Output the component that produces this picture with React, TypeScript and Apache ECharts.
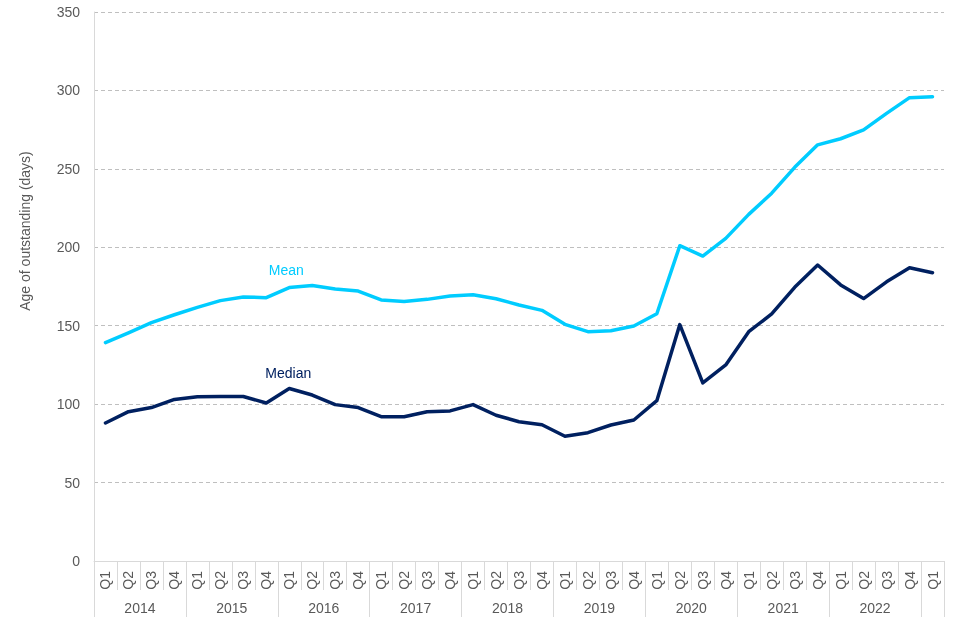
import React, { useEffect, useRef } from 'react';
import * as echarts from 'echarts';

const quarters = [
  'Q1', 'Q2', 'Q3', 'Q4', 'Q1', 'Q2', 'Q3', 'Q4', 'Q1', 'Q2', 'Q3', 'Q4',
  'Q1', 'Q2', 'Q3', 'Q4', 'Q1', 'Q2', 'Q3', 'Q4', 'Q1', 'Q2', 'Q3', 'Q4',
  'Q1', 'Q2', 'Q3', 'Q4', 'Q1', 'Q2', 'Q3', 'Q4', 'Q1', 'Q2', 'Q3', 'Q4',
  'Q1',
];
const years = ['2014', '2015', '2016', '2017', '2018', '2019', '2020', '2021', '2022'];

const meanValues = [
  139.2, 145.5, 152, 157, 161.7, 166, 168.3, 167.9, 174.3, 175.7, 173.4, 172.1,
  166.4, 165.5, 166.8, 169, 169.8, 167.2, 163.2, 159.8, 150.9, 146.2, 146.8, 149.8,
  157.6, 201, 194.4, 205.7, 221, 234.5, 251, 265.3, 269.2, 274.8, 285.4, 295.4,
  296,
];
const medianValues = [
  88, 95.2, 97.8, 103, 104.7, 104.9, 104.9, 100.7, 110, 105.8, 99.7, 97.8,
  92, 92, 95.2, 95.7, 99.7, 92.9, 88.8, 86.9, 79.5, 81.8, 86.7, 89.9,
  102.2, 150.7, 113.5, 125, 146.2, 157.5, 174.5, 188.7, 176, 167.3, 178, 187,
  183.8,
];
const seriesNames = ['Mean', 'Median'];
const labelIndex = 8;
const yMin = 0;
const yMax = 350;
const yInterval = 50;
const yAxisTitle = 'Age of outstanding (days)';

const FONT = '"Liberation Sans", Arial, sans-serif';
const TEXT = '#595959';
const AXIS = '#d9d9d9';
const MEAN_COLOR = '#00ccff';
const MEDIAN_COLOR = '#002060';

function withLabel(
  values: number[],
  color: string,
  name: string,
  distance: number,
  offset: number[]
) {
  return values.map((v, i) =>
    i === labelIndex
      ? {
          value: v,
          label: {
            show: true,
            position: 'top',
            distance,
            offset,
            formatter: name,
            color,
            fontSize: 14,
            fontFamily: FONT,
          },
        }
      : v
  );
}

export default function App() {
  const ref = useRef<HTMLDivElement>(null);
  useEffect(() => {
    const chart = echarts.init(ref.current!, null, { renderer: 'svg' });
    const n = quarters.length;
    chart.setOption({
      animation: false,
      grid: { left: 94, right: 16, top: 12, bottom: 79, containLabel: false },
      xAxis: [
        {
          type: 'category',
          data: quarters,
          boundaryGap: true,
          axisLine: { show: true, lineStyle: { color: AXIS, width: 1 } },
          axisTick: { show: true, interval: 0, length: 29, lineStyle: { color: AXIS } },
          axisLabel: {
            interval: 0,
            rotate: 90,
            margin: 10,
            color: TEXT,
            fontSize: 14,
            fontFamily: FONT,
          },
          splitLine: { show: false },
        },
        {
          type: 'value',
          min: 0,
          max: n,
          interval: 4,
          position: 'bottom',
          axisLine: { show: false },
          axisTick: { show: true, length: 56, lineStyle: { color: AXIS } },
          axisLabel: { show: false },
          splitLine: { show: false },
        },
        {
          type: 'value',
          min: 0,
          max: n,
          interval: 2,
          position: 'bottom',
          axisLine: { show: false },
          axisTick: { show: false },
          splitLine: { show: false },
          axisLabel: {
            margin: 40,
            color: TEXT,
            fontSize: 14,
            fontFamily: FONT,
            showMinLabel: true,
            showMaxLabel: true,
            formatter: (v: number) =>
              v % 4 === 2 && (v - 2) / 4 < years.length ? years[(v - 2) / 4] : '',
          },
        },
      ],
      yAxis: {
        type: 'value',
        min: yMin,
        max: yMax,
        interval: yInterval,
        axisLine: { show: true, lineStyle: { color: AXIS } },
        axisTick: { show: false },
        axisLabel: { margin: 14, color: TEXT, fontSize: 14, fontFamily: FONT },
        splitLine: { show: true, lineStyle: { color: '#bfbfbf', type: [4, 3], width: 1 } },
      },
      graphic: [
        {
          type: 'text',
          x: 24.5,
          y: 231,
          rotation: Math.PI / 2,
          style: {
            text: yAxisTitle,
            fill: TEXT,
            font: `14px ${FONT}`,
            align: 'center',
            verticalAlign: 'middle',
            textAlign: 'center',
            textVerticalAlign: 'middle',
          },
        },
      ],
      series: [
        {
          name: seriesNames[0],
          type: 'line',
          xAxisIndex: 0,
          data: withLabel(meanValues, MEAN_COLOR, seriesNames[0], 11, [-3, 0]),
          symbol: 'circle',
          symbolSize: 0.1,
          showSymbol: true,
          lineStyle: { color: MEAN_COLOR, width: 3.5, cap: 'round', join: 'round' },
          itemStyle: { color: 'rgba(0,0,0,0)' },
          z: 3,
        },
        {
          name: seriesNames[1],
          type: 'line',
          xAxisIndex: 0,
          data: withLabel(medianValues, MEDIAN_COLOR, seriesNames[1], 8, [-1, 0]),
          symbol: 'circle',
          symbolSize: 0.1,
          showSymbol: true,
          lineStyle: { color: MEDIAN_COLOR, width: 3.5, cap: 'round', join: 'round' },
          itemStyle: { color: 'rgba(0,0,0,0)' },
          z: 4,
        },
      ],
    });
    return () => chart.dispose();
  }, []);
  return (
    <div
      ref={ref}
      style={{ position: 'fixed', left: 0, top: 0, width: 960, height: 640 }}
    />
  );
}
